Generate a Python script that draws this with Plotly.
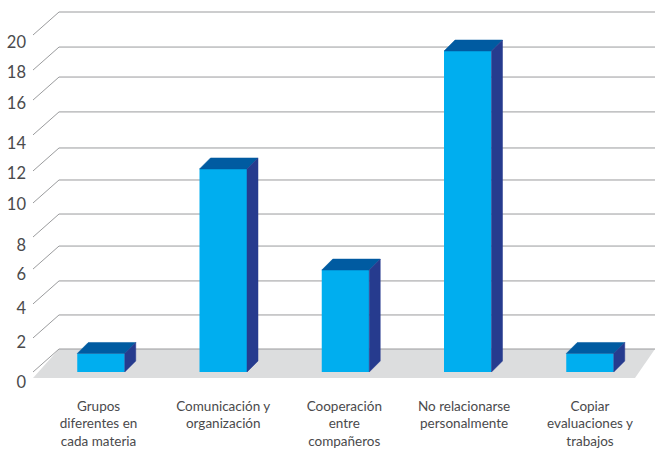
import plotly.graph_objects as go

categories = ["Grupos<br>diferentes en<br>cada materia", "Comunicación y<br>organización",
              "Cooperación<br>entre<br>compañeros", "No relacionarse<br>personalmente",
              "Copiar<br>evaluaciones y<br>trabajos"]
values = [1.1, 12.05, 6.05, 19.05, 1.1]
tick_labels = ["0", "2", "4", "6", "8", "10", "12", "14", "16", "18", "20"]
# levels of the gridlines and of the labels
grid_levels = [0, 2.02, 4.04, 6.11, 8.01, 10.03, 11.93, 14.07, 16.14, 17.92, 20]
label_levels = [-0.59, 1.78, 3.8, 5.82, 7.54, 9.97, 11.81, 13.6, 15.96, 17.8, 19.58]
category_positions = [-0.02, 0, -0.01, -0.03, 0]

W, H = 655, 449
ML, MB = 33, 53
PX_X, PX_Y = 122.25, 16.85
X0_PX, Y0_PX = 101, 372
TEXT = "#4A4A4C"
to_x = lambda px: (px - X0_PX) / PX_X
to_y = lambda py: (Y0_PX - py) / PX_Y
xr = [to_x(ML), to_x(W)]
yr = [to_y(H - MB), to_y(0)]

bar_w = 47.5 / PX_X
bdx, bdy = 11 / PX_X, 11 / PX_Y
gdx, gdy = 26 / PX_X, 23 / PX_Y
x_left = to_x(33)
x_right = to_x(W)
floor_y = to_y(378)

shapes = []
floor = f"M {x_left} {floor_y} L {x_left + gdx} {gdy} L {x_right} {gdy} L {to_x(635)} {floor_y} Z"
shapes.append(dict(type="path", path=floor, xref="x", yref="y", fillcolor="#DCDDDE",
                   line=dict(width=0), layer="below"))
for lv in grid_levels:
    path = f"M {x_left} {lv} L {x_left + gdx} {lv + gdy} L {x_right} {lv + gdy}"
    shapes.append(dict(type="path", path=path, xref="x", yref="y",
                       line=dict(color="#9A9B9D", width=1), layer="below"))

top_x, top_y, side_x, side_y = [], [], [], []
for i, v in enumerate(values):
    l, r = i - bar_w / 2, i + bar_w / 2
    top_x += [l, l + bdx, r + bdx, r, l, None]
    top_y += [v, v + bdy, v + bdy, v, v, None]
    side_x += [r, r + bdx, r + bdx, r, r, None]
    side_y += [0, bdy, v + bdy, v, 0, None]

fig = go.Figure()
fig.add_trace(go.Bar(x=list(range(5)), y=values, width=bar_w,
                     marker=dict(color="#00AEEF", line=dict(width=0))))
fig.add_trace(go.Scatter(x=top_x, y=top_y, mode="lines", fill="toself", fillcolor="#005BA1",
                         line=dict(width=0.5, color="#005BA1"), hoverinfo="skip"))
fig.add_trace(go.Scatter(x=side_x, y=side_y, mode="lines", fill="toself", fillcolor="#263B8E",
                         line=dict(width=0.5, color="#263B8E"), hoverinfo="skip"))

fig.update_layout(
    width=W, height=H, margin=dict(l=ML, r=0, t=0, b=MB),
    paper_bgcolor="white", plot_bgcolor="white", showlegend=False, shapes=shapes,
    font=dict(family="Lato", color=TEXT),
    xaxis=dict(range=xr, tickvals=[i + d for i, d in enumerate(category_positions)],
               ticktext=categories, showgrid=False, automargin=False,
               zeroline=False, showline=False, ticks="", tickangle=0,
               tickfont=dict(size=13.5, family="Lato", color=TEXT)),
    yaxis=dict(range=yr, tickvals=label_levels, ticktext=tick_labels, showgrid=False,
               automargin=False, zeroline=False, showline=False, ticks="", ticklabelstandoff=6,
               tickfont=dict(size=16.5, family="Lato", color=TEXT)),
)
fig.write_html("out.html", post_script="document.body.style.margin='0';",
               config={"displayModeBar": False})
